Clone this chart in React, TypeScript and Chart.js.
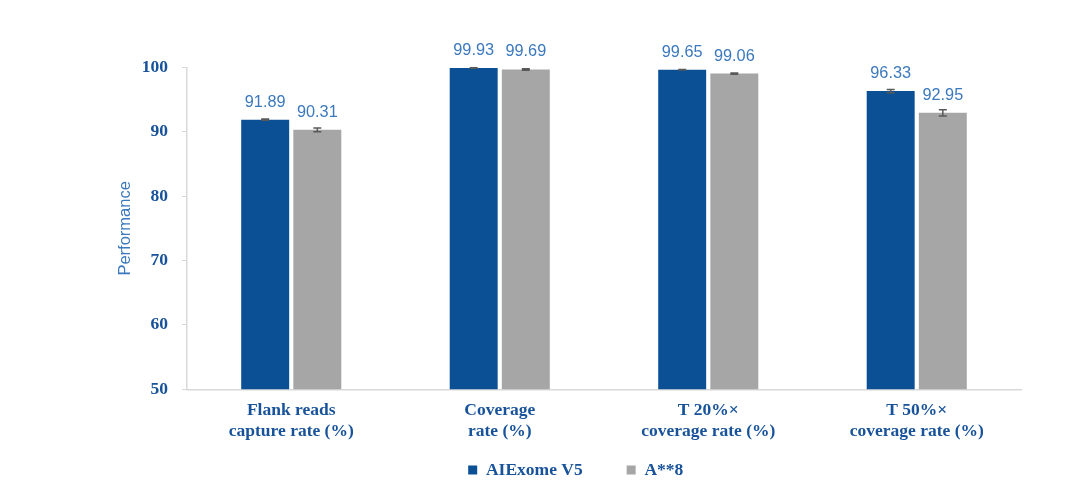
import React, { useEffect, useRef } from "react";
import { Chart, registerables } from "chart.js";

Chart.register(...registerables);

const categories: string[][] = [
  ["Flank reads", "capture rate (%)"],
  ["Coverage", "rate (%)"],
  ["T 20%×", "coverage rate (%)"],
  ["T 50%×", "coverage rate (%)"],
];
const seriesNames = ["AIExome V5", "A**8"];
const aiexomeValues = [91.89, 99.93, 99.65, 96.33];
const a8Values = [90.31, 99.69, 99.06, 92.95];
const aiexomeErrors = [0.1, 0.05, 0.05, 0.25];
const a8Errors = [0.3, 0.1, 0.1, 0.5];
const yTicks = [50, 60, 70, 80, 90, 100];

const BLUE = "#0B4F95";
const GREY = "#A6A6A6";
const TICK_BLUE = "#17529A";
const LABEL_BLUE = "#3B78BD";
const AXIS_GREY = "#D9D9D9";
const SERIF = '"Liberation Serif", "Times New Roman", serif';
const SANS = '"Liberation Sans", Arial, sans-serif';

const errorsByDataset = [aiexomeErrors, a8Errors];

const errorBarPlugin = {
  id: "errorBarsAndLabels",
  afterDatasetsDraw(chart: any) {
    const ctx = chart.ctx;
    const yScale = chart.scales.y;
    chart.data.datasets.forEach((ds: any, di: number) => {
      const meta = chart.getDatasetMeta(di);
      const errs = errorsByDataset[di];
      meta.data.forEach((el: any, i: number) => {
        const v = ds.data[i];
        const e = errs[i];
        const yTop = yScale.getPixelForValue(v + e);
        const yBot = yScale.getPixelForValue(v - e);
        const x = el.x;
        ctx.save();
        ctx.strokeStyle = "#595959";
        ctx.lineWidth = 1.5;
        ctx.beginPath();
        ctx.moveTo(x, yTop);
        ctx.lineTo(x, yBot);
        ctx.moveTo(x - 4, yTop);
        ctx.lineTo(x + 4, yTop);
        ctx.moveTo(x - 4, yBot);
        ctx.lineTo(x + 4, yBot);
        ctx.stroke();
        ctx.fillStyle = LABEL_BLUE;
        ctx.font = "16.3px " + SANS;
        ctx.textAlign = "center";
        ctx.textBaseline = "alphabetic";
        ctx.fillText(v.toFixed(2), x, el.y - 13);
        ctx.restore();
      });
    });
  },
};

export default function App() {
  const canvasRef = useRef<HTMLCanvasElement | null>(null);

  useEffect(() => {
    if (!canvasRef.current) return;
    const chart = new Chart(canvasRef.current, {
      type: "bar",
      data: {
        labels: categories,
        datasets: [
          {
            label: seriesNames[0],
            data: aiexomeValues,
            backgroundColor: BLUE,
            borderWidth: 0,
            categoryPercentage: 0.5,
            barPercentage: 0.92,
          },
          {
            label: seriesNames[1],
            data: a8Values,
            backgroundColor: GREY,
            borderWidth: 0,
            categoryPercentage: 0.5,
            barPercentage: 0.92,
          },
        ],
      },
      options: {
        animation: false,
        responsive: false,
        maintainAspectRatio: false,
        layout: { padding: { left: 130.5, right: 59, top: 67.5, bottom: 11.25 } },
        plugins: {
          legend: {
            position: "bottom",
            title: {
              display: true,
              text: "",
              padding: { top: -17, bottom: -17 },
              font: { size: 1, lineHeight: 1 },
            },
            labels: {
              boxWidth: 9,
              boxHeight: 9,
              padding: 44,
              color: TICK_BLUE,
              font: { family: SERIF, size: 17.5, weight: "bold" },
            },
          },
          tooltip: { enabled: false },
        },
        scales: {
          x: {
            afterFit: (scale: any) => {
              scale.height = 61;
            },
            grid: { drawOnChartArea: false, drawTicks: false, color: AXIS_GREY },
            border: { color: AXIS_GREY, width: 1.5 },
            ticks: {
              color: TICK_BLUE,
              padding: 10,
              font: { family: SERIF, size: 17.5, weight: "bold", lineHeight: 1.24 },
            },
          },
          y: {
            min: yTicks[0],
            max: yTicks[yTicks.length - 1],
            afterBuildTicks: (scale: any) => {
              scale.ticks = yTicks.map((v) => ({ value: v }));
            },
            afterFit: (scale: any) => {
              scale.width = 56.5;
            },
            grid: { drawOnChartArea: false, drawTicks: true, tickLength: 5, color: AXIS_GREY },
            border: { color: AXIS_GREY, width: 1.5 },
            ticks: {
              color: TICK_BLUE,
              padding: 14,
              font: { family: SERIF, size: 17.5, weight: "bold" },
            },
            title: {
              display: true,
              text: "Performance",
              color: LABEL_BLUE,
              padding: { top: -15.3, bottom: 0 },
              font: { family: SANS, size: 16.5, weight: "normal" },
            },
          },
        },
      },
      plugins: [errorBarPlugin],
    });
    return () => chart.destroy();
  }, []);

  return (
    <div style={{ position: "fixed", left: 0, top: 0, width: 1080, height: 500, background: "#fff" }}>
      <canvas ref={canvasRef} width={1080} height={500} style={{ width: 1080, height: 500 }} />
    </div>
  );
}
